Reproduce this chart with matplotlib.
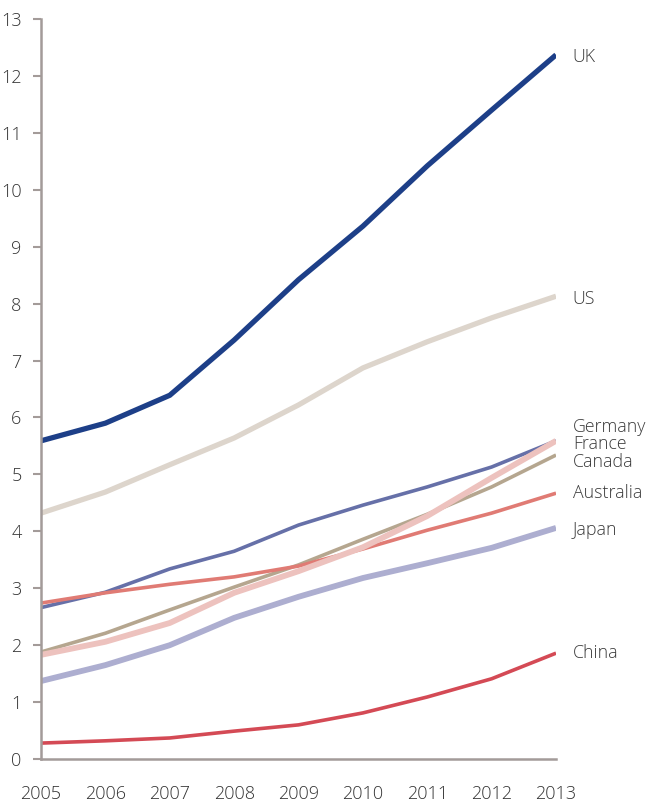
import matplotlib
matplotlib.use("Agg")
import matplotlib.pyplot as plt

years = [2005, 2006, 2007, 2008, 2009, 2010, 2011, 2012, 2013]
uk = [5.59, 5.90, 6.39, 7.36, 8.42, 9.36, 10.42, 11.40, 12.37]
us = [4.32, 4.69, 5.17, 5.64, 6.22, 6.87, 7.33, 7.75, 8.13]
germany = [2.66, 2.93, 3.34, 3.65, 4.11, 4.46, 4.78, 5.13, 5.59]
france = [1.83, 2.06, 2.39, 2.92, 3.30, 3.72, 4.27, 4.94, 5.59]
canada = [1.88, 2.21, 2.62, 3.02, 3.41, 3.86, 4.30, 4.78, 5.34]
australia = [2.74, 2.92, 3.07, 3.20, 3.39, 3.69, 4.02, 4.32, 4.67]
japan = [1.37, 1.65, 2.00, 2.48, 2.85, 3.18, 3.44, 3.71, 4.06]
china = [0.28, 0.32, 0.37, 0.49, 0.60, 0.81, 1.09, 1.41, 1.86]
yticks = list(range(0, 14))

plt.rcParams['font.family'] = ['Open Sans', 'DejaVu Sans']

fig = plt.figure(figsize=(6.52, 8.05), dpi=100)
ax = fig.add_axes([0.0629, 0.0571, 0.7899, 0.9193])

series = [
    ("US", us, "#ddd5cc", 3.8, 8.09),
    ("Germany", germany, "#6670a8", 2.6, 5.84),
    ("Canada", canada, "#b5a68f", 2.6, 5.22),
    ("Australia", australia, "#e07b74", 2.6, 4.68),
    ("France", france, "#edc2be", 4.2, 5.54),
    ("Japan", japan, "#adaed0", 4.2, 4.03),
    ("China", china, "#d44a55", 2.6, 1.87),
    ("UK", uk, "#1d3f88", 3.8, 12.34),
]

for name, vals, col, lw, ly in series:
    ax.plot(years, vals, color=col, lw=lw, solid_capstyle='butt', solid_joinstyle='miter')
    ax.text(2013.26, ly, name, color="#3a3a3a", fontsize=12.8, va='center', ha='left',
            fontweight='light')

ax.set_xlim(2005, 2013)
ax.set_ylim(0, 13)
ax.set_yticks(yticks)
ax.set_xticks(years)
ax.set_xticklabels([str(y) for y in years])
for s in ['top', 'right']:
    ax.spines[s].set_visible(False)
for s in ['left', 'bottom']:
    ax.spines[s].set_color('#a39b99')
    ax.spines[s].set_linewidth(1.8)
ax.tick_params(axis='y', length=6, width=1.5, color='#a39b99', labelsize=13, labelcolor='#333333', pad=8)
ax.tick_params(axis='x', length=0, labelsize=13, labelcolor='#333333', pad=19)
ax.patch.set_alpha(0)
for lab in ax.get_xticklabels() + ax.get_yticklabels():
    lab.set_fontweight('light')

fig.savefig("out.png", dpi=100)
